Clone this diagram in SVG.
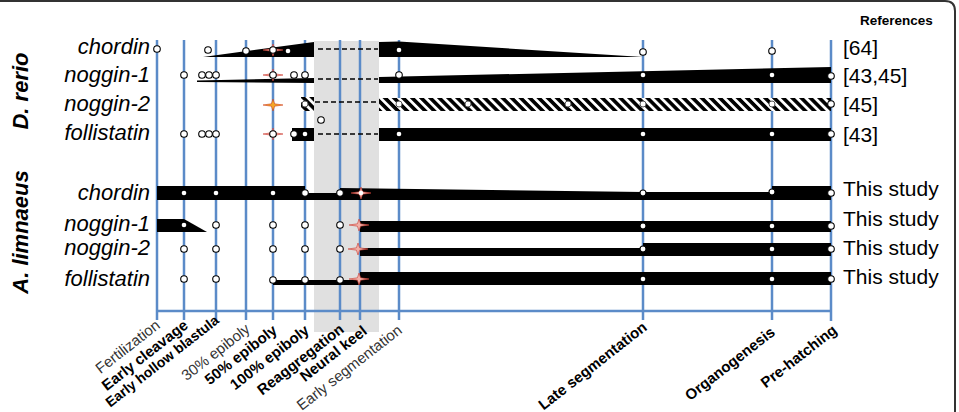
<svg xmlns="http://www.w3.org/2000/svg" xmlns:xlink="http://www.w3.org/1999/xlink" width="959" height="412" viewBox="0 0 959 412">
<style>
text{font-family:"Liberation Sans",Arial,sans-serif;fill:#000}
.gene{font-size:22px;font-style:italic;text-anchor:end}
.sp{font-size:22px;font-style:italic;font-weight:bold;text-anchor:middle}
.ref{font-size:21px}
.hdr{font-size:13.5px;font-weight:bold}
.ax{font-size:15px;text-anchor:end}
.axb{font-size:15px;text-anchor:end;font-weight:bold}
.axr{fill:#333}
.stage{stroke:#5b8bc8;stroke-width:2.5;fill:none}
.bar{fill:#000}
.dash{stroke:#000;stroke-width:1.5;stroke-dasharray:5 3;fill:none}
.o{fill:#fff;stroke:#000;stroke-width:1.1}
.og{fill:#fff;stroke:#555;stroke-width:1}
.w{fill:#fff;stroke:none}
.sr{fill:#f0b0a8;stroke:#cc3a30;stroke-width:0.6}
.so{fill:#f4a828;stroke:#d0401e;stroke-width:0.6}
.frame{fill:none;stroke:#333;stroke-width:2}
</style>
<defs>
<path id="star" d="M-10,0 L-1.6,-1.2 L0,-6 L1.6,-1.2 L10,0 L1.6,1.2 L0,6 L-1.6,1.2 Z"/>
<pattern id="hatch" patternUnits="userSpaceOnUse" width="6.4" height="6.4" patternTransform="rotate(-45)">
<rect width="6.4" height="6.4" fill="#000"/>
<rect width="2.8" height="6.4" fill="#fff"/>
</pattern>
</defs>
<rect width="959" height="412" fill="#fff"/>
<path class="frame" d="M0,1 H945 Q955,1 955,11 V412"/>
<rect x="314" y="41" width="65" height="291" fill="#e0e0e0"/>
<g id="connectors">
<g id="stages">
<line class="stage" x1="157" y1="40" x2="157" y2="320"/>
<line class="stage" x1="184" y1="40" x2="184" y2="320"/>
<line class="stage" x1="216" y1="40" x2="216" y2="320"/>
<line class="stage" x1="246" y1="40" x2="246" y2="320"/>
<line class="stage" x1="273" y1="40" x2="273" y2="320"/>
<line class="stage" x1="305" y1="40" x2="305" y2="320"/>
<line class="stage" x1="340" y1="40" x2="340" y2="320"/>
<line class="stage" x1="360" y1="40" x2="360" y2="320"/>
<line class="stage" x1="399" y1="40" x2="399" y2="320"/>
<line class="stage" x1="643" y1="40" x2="643" y2="320"/>
<line class="stage" x1="772" y1="40" x2="772" y2="320"/>
<line class="stage" x1="831" y1="40" x2="831" y2="321"/>
<line class="stage" x1="157" y1="311" x2="831" y2="311"/>
</g>
<g id="dashes">
<line class="dash" x1="318" y1="49" x2="378" y2="49"/>
<line class="dash" x1="318" y1="79" x2="378" y2="79"/>
<line class="dash" x1="315" y1="102" x2="379" y2="102"/>
<line class="dash" x1="318" y1="134" x2="378" y2="134"/>
</g>
</g>
<g id="dr-chordin">
<text class="gene" x="150" y="54">chordin</text>
<polygon class="bar" points="203,57 314,42 314,57"/>
<polygon class="bar" points="379,42 399,41.5 643,57 379,57"/>
<circle class="o" cx="157" cy="49" r="3.3"/>
<circle class="o" cx="208" cy="50" r="3.3"/>
<circle class="o" cx="246" cy="51" r="3.3"/>
<use xlink:href="#star" x="273" y="50" class="sr"/>
<circle class="o" cx="273" cy="50" r="3.3"/>
<circle class="w" cx="288" cy="51" r="2.3"/>
<circle class="w" cx="399" cy="50" r="2.3"/>
<circle class="o" cx="643" cy="52" r="3.3"/>
<circle class="o" cx="772" cy="51" r="3.3"/>
<text class="ref" x="843" y="55">[64]</text>
</g>
<g id="dr-noggin1">
<text class="gene" x="150" y="82">noggin-1</text>
<polygon class="bar" points="197,80.5 314,78 314,83 197,82"/>
<polygon class="bar" points="379,77 831,67 831,83 379,83"/>
<circle class="o" cx="184" cy="75" r="3.3"/>
<circle class="o" cx="202" cy="75" r="3.3"/>
<circle class="o" cx="209" cy="75" r="3.3"/>
<circle class="o" cx="216" cy="75" r="3.3"/>
<use xlink:href="#star" x="273" y="75" class="sr"/>
<circle class="o" cx="273" cy="75" r="3.3"/>
<circle class="o" cx="294" cy="75" r="3.3"/>
<circle class="o" cx="305" cy="75" r="3.3"/>
<circle class="o" cx="399" cy="75" r="3.3"/>
<circle class="w" cx="643" cy="75" r="2.3"/>
<circle class="w" cx="772" cy="75" r="2.3"/>
<circle class="o" cx="831" cy="76" r="3.3"/>
<text class="ref" x="843" y="83">[43,45]</text>
</g>
<g id="dr-noggin2">
<text class="gene" x="150" y="111">noggin-2</text>
<use xlink:href="#star" x="273" y="105" class="so"/>
<rect x="301" y="97" width="13" height="14" fill="url(#hatch)"/>
<rect x="379" y="98" width="452" height="13" fill="url(#hatch)"/>
<circle class="og" cx="305" cy="104" r="3"/>
<circle class="o" cx="321" cy="120" r="3.3"/>
<circle class="og" cx="399" cy="104" r="3"/>
<circle class="og" cx="468" cy="104" r="3"/>
<circle class="og" cx="568" cy="104" r="3"/>
<circle class="og" cx="643" cy="104" r="3"/>
<circle class="og" cx="772" cy="104" r="3"/>
<circle class="o" cx="831" cy="104" r="3.3"/>
<text class="ref" x="843" y="112">[45]</text>
</g>
<g id="dr-follistatin">
<text class="gene" x="150" y="140">follistatin</text>
<rect class="bar" x="292" y="128" width="22" height="13"/>
<rect class="bar" x="379" y="128" width="452" height="13"/>
<circle class="o" cx="184" cy="134" r="3.3"/>
<circle class="o" cx="202" cy="134" r="3.3"/>
<circle class="o" cx="209" cy="134" r="3.3"/>
<circle class="o" cx="216" cy="134" r="3.3"/>
<use xlink:href="#star" x="273" y="134" class="sr"/>
<circle class="o" cx="273" cy="134" r="3.3"/>
<circle class="o" cx="294" cy="134" r="3.3"/>
<circle class="w" cx="305" cy="134" r="2.3"/>
<circle class="w" cx="399" cy="134" r="2.3"/>
<circle class="w" cx="643" cy="134" r="2.3"/>
<circle class="w" cx="772" cy="134" r="2.3"/>
<circle class="o" cx="831" cy="134" r="3.3"/>
<text class="ref" x="843" y="142">[43]</text>
</g>
<g id="al-chordin">
<text class="gene" x="150" y="200">chordin</text>
<polygon class="bar" points="157,186 305,186 305,193 340,193 340,188 643,192 772,192 772,186 831,186 831,200 157,200"/>
<circle class="w" cx="184" cy="193" r="2.3"/>
<circle class="w" cx="216" cy="193" r="2.3"/>
<circle class="w" cx="273" cy="193" r="2.3"/>
<circle class="o" cx="305" cy="193" r="3.3"/>
<circle class="o" cx="340" cy="193" r="3.3"/>
<use xlink:href="#star" x="361" y="193" class="sr"/>
<circle class="w" cx="361" cy="193" r="2.3"/>
<circle class="o" cx="643" cy="193" r="3"/>
<circle class="o" cx="772" cy="192" r="3"/>
<circle class="o" cx="831" cy="193" r="3.3"/>
<text class="ref" x="843" y="196">This study</text>
</g>
<g id="al-noggin1">
<text class="gene" x="150" y="231">noggin-1</text>
<polygon class="bar" points="157,219 184,219 207,232 157,232"/>
<rect class="bar" x="360" y="221" width="471" height="11"/>
<circle class="w" cx="184" cy="225" r="2.3"/>
<circle class="o" cx="216" cy="225" r="3.3"/>
<circle class="o" cx="273" cy="225" r="3.3"/>
<circle class="o" cx="305" cy="225" r="3.3"/>
<circle class="o" cx="340" cy="225" r="3.3"/>
<use xlink:href="#star" x="359" y="225" class="sr"/>
<circle class="o" cx="643" cy="226" r="3"/>
<circle class="w" cx="772" cy="226" r="2.3"/>
<circle class="o" cx="831" cy="226" r="3.3"/>
<text class="ref" x="843" y="226">This study</text>
</g>
<g id="al-noggin2">
<text class="gene" x="150" y="255">noggin-2</text>
<polygon class="bar" points="360,248 643,248 643,243 831,243 831,256 360,256"/>
<circle class="o" cx="184" cy="249" r="3.3"/>
<circle class="o" cx="216" cy="249" r="3.3"/>
<circle class="o" cx="273" cy="249" r="3.3"/>
<circle class="o" cx="305" cy="249" r="3.3"/>
<circle class="o" cx="340" cy="249" r="3.3"/>
<use xlink:href="#star" x="358" y="249" class="sr"/>
<circle class="o" cx="643" cy="249" r="3"/>
<circle class="w" cx="772" cy="249" r="2.3"/>
<circle class="o" cx="831" cy="249" r="3.3"/>
<text class="ref" x="843" y="255">This study</text>
</g>
<g id="al-follistatin">
<text class="gene" x="150" y="286">follistatin</text>
<rect class="bar" x="273" y="280" width="89" height="5"/>
<rect class="bar" x="360" y="272" width="471" height="13"/>
<circle class="o" cx="184" cy="279" r="3.3"/>
<circle class="o" cx="216" cy="279" r="3.3"/>
<circle class="o" cx="273" cy="280" r="3.3"/>
<circle class="o" cx="305" cy="280" r="3.3"/>
<circle class="o" cx="340" cy="280" r="3.3"/>
<use xlink:href="#star" x="359" y="279" class="sr"/>
<circle class="w" cx="643" cy="279" r="2.3"/>
<circle class="w" cx="772" cy="279" r="2.3"/>
<circle class="o" cx="831" cy="279" r="3.3"/>
<text class="ref" x="843" y="284">This study</text>
</g>
<g id="species">
<text class="sp" transform="translate(28,91) rotate(-90)">D. rerio</text>
<text class="sp" transform="translate(28,232) rotate(-90)">A. limnaeus</text>
<text class="hdr" x="860" y="25">References</text>
</g>
<g id="axis-labels">
<text class="ax axr" transform="translate(161,327) rotate(-38)">Fertilization</text>
<text class="axb" transform="translate(189,327) rotate(-38)">Early cleavage</text>
<text class="axb" transform="translate(220,322) rotate(-38)" style="font-size:14px">Early hollow blastula</text>
<text class="ax axr" transform="translate(251,331) rotate(-38)">30% epiboly</text>
<text class="axb" transform="translate(278,332) rotate(-38)">50% epiboly</text>
<text class="axb" transform="translate(310,332) rotate(-38)">100% epiboly</text>
<text class="axb" transform="translate(345,331) rotate(-38)">Reaggregation</text>
<text class="axb" transform="translate(368,333) rotate(-38)">Neural keel</text>
<text class="ax axr" transform="translate(403,332) rotate(-38)">Early segmentation</text>
<text class="axb" transform="translate(648,329) rotate(-38)">Late segmentation</text>
<text class="axb" transform="translate(776,334) rotate(-38)">Organogenesis</text>
<text class="axb" transform="translate(838,332) rotate(-38)">Pre-hatching</text>
</g>
</svg>
